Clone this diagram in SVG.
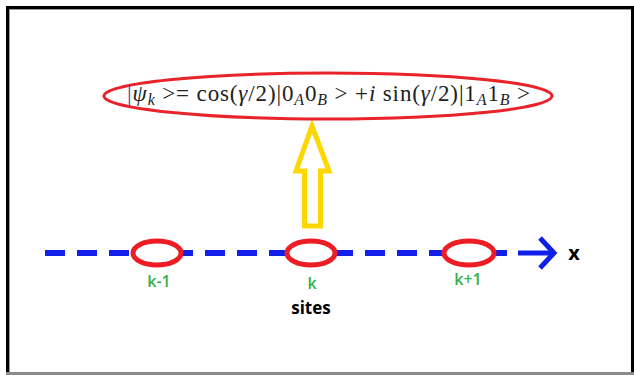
<svg xmlns="http://www.w3.org/2000/svg" width="634" height="375" viewBox="0 0 634 375">
<defs>
<style>
.site{fill:#ffffff;stroke:#ee1c24;stroke-width:5}
.lbl{font-family:"Open Sans","Liberation Sans",sans-serif;font-size:16px;font-weight:600;fill:#34b14a;text-anchor:middle}
.blk{font-family:"Open Sans","Liberation Sans",sans-serif;font-weight:bold;fill:#000}
.eq{font-family:"Liberation Serif","DejaVu Serif",serif;font-size:23px;fill:#222}
.it{font-style:italic}
</style>
</defs>
<rect x="0" y="0" width="634" height="375" fill="#ffffff"/>
<g id="frame">
<rect x="9" y="9" width="622" height="1" fill="#9a9a9a"/>
<rect x="9" y="9" width="1" height="363" fill="#9a9a9a"/>
<rect x="6" y="6" width="628" height="3" fill="#000"/>
<rect x="6" y="6" width="3" height="369" fill="#000"/>
<rect x="631" y="6" width="3" height="369" fill="#000"/>
<rect x="6" y="372" width="628" height="3" fill="#8a8a8a"/>
</g>
<g id="connectors">
<line x1="45" y1="253" x2="507" y2="253" stroke="#1020e8" stroke-width="6" stroke-dasharray="20 12"/>
<line x1="518" y1="253" x2="552" y2="253" stroke="#1020e8" stroke-width="5"/>
<polyline points="540,238 554,253 540,268" fill="none" stroke="#1020e8" stroke-width="5"/>
<polygon id="yellow-arrow" points="312,126 329,171 320.5,171 320.5,226 304.5,226 304.5,171 296,171" fill="#ffffff" stroke="#ffd700" stroke-width="5"/>
</g>
<g id="state">
<ellipse cx="328" cy="96" rx="224" ry="23" fill="none" stroke="#e8232a" stroke-width="3"/>
<text class="eq" x="127" y="101" textLength="403" lengthAdjust="spacing"><tspan fill="#2a4d9a">|</tspan><tspan class="it">ψ</tspan><tspan class="it" font-size="16" dy="4">k</tspan><tspan dy="-4"> &gt;= cos(</tspan><tspan class="it">γ</tspan><tspan>/2)|0</tspan><tspan class="it" font-size="16" dy="4">A</tspan><tspan dy="-4">0</tspan><tspan class="it" font-size="16" dy="4">B</tspan><tspan dy="-4"> &gt; +</tspan><tspan class="it">i</tspan><tspan> sin(</tspan><tspan class="it">γ</tspan><tspan>/2)|1</tspan><tspan class="it" font-size="16" dy="4">A</tspan><tspan dy="-4">1</tspan><tspan class="it" font-size="16" dy="4">B</tspan><tspan dy="-4"> &gt;</tspan></text>
</g>
<g id="site-k-1">
<ellipse class="site" cx="157" cy="253" rx="24" ry="12"/>
<text class="lbl" x="159" y="287">k-1</text>
</g>
<g id="site-k">
<ellipse class="site" cx="311" cy="253" rx="24" ry="12"/>
<text class="lbl" x="312" y="289">k</text>
</g>
<g id="site-k+1">
<ellipse class="site" cx="469" cy="253" rx="25" ry="12"/>
<text class="lbl" x="468" y="285">k+1</text>
</g>
<g id="labels">
<text class="blk" x="311" y="314" font-size="17" text-anchor="middle">sites</text>
<text class="blk" x="574" y="260" font-size="20" text-anchor="middle">x</text>
</g>
</svg>
